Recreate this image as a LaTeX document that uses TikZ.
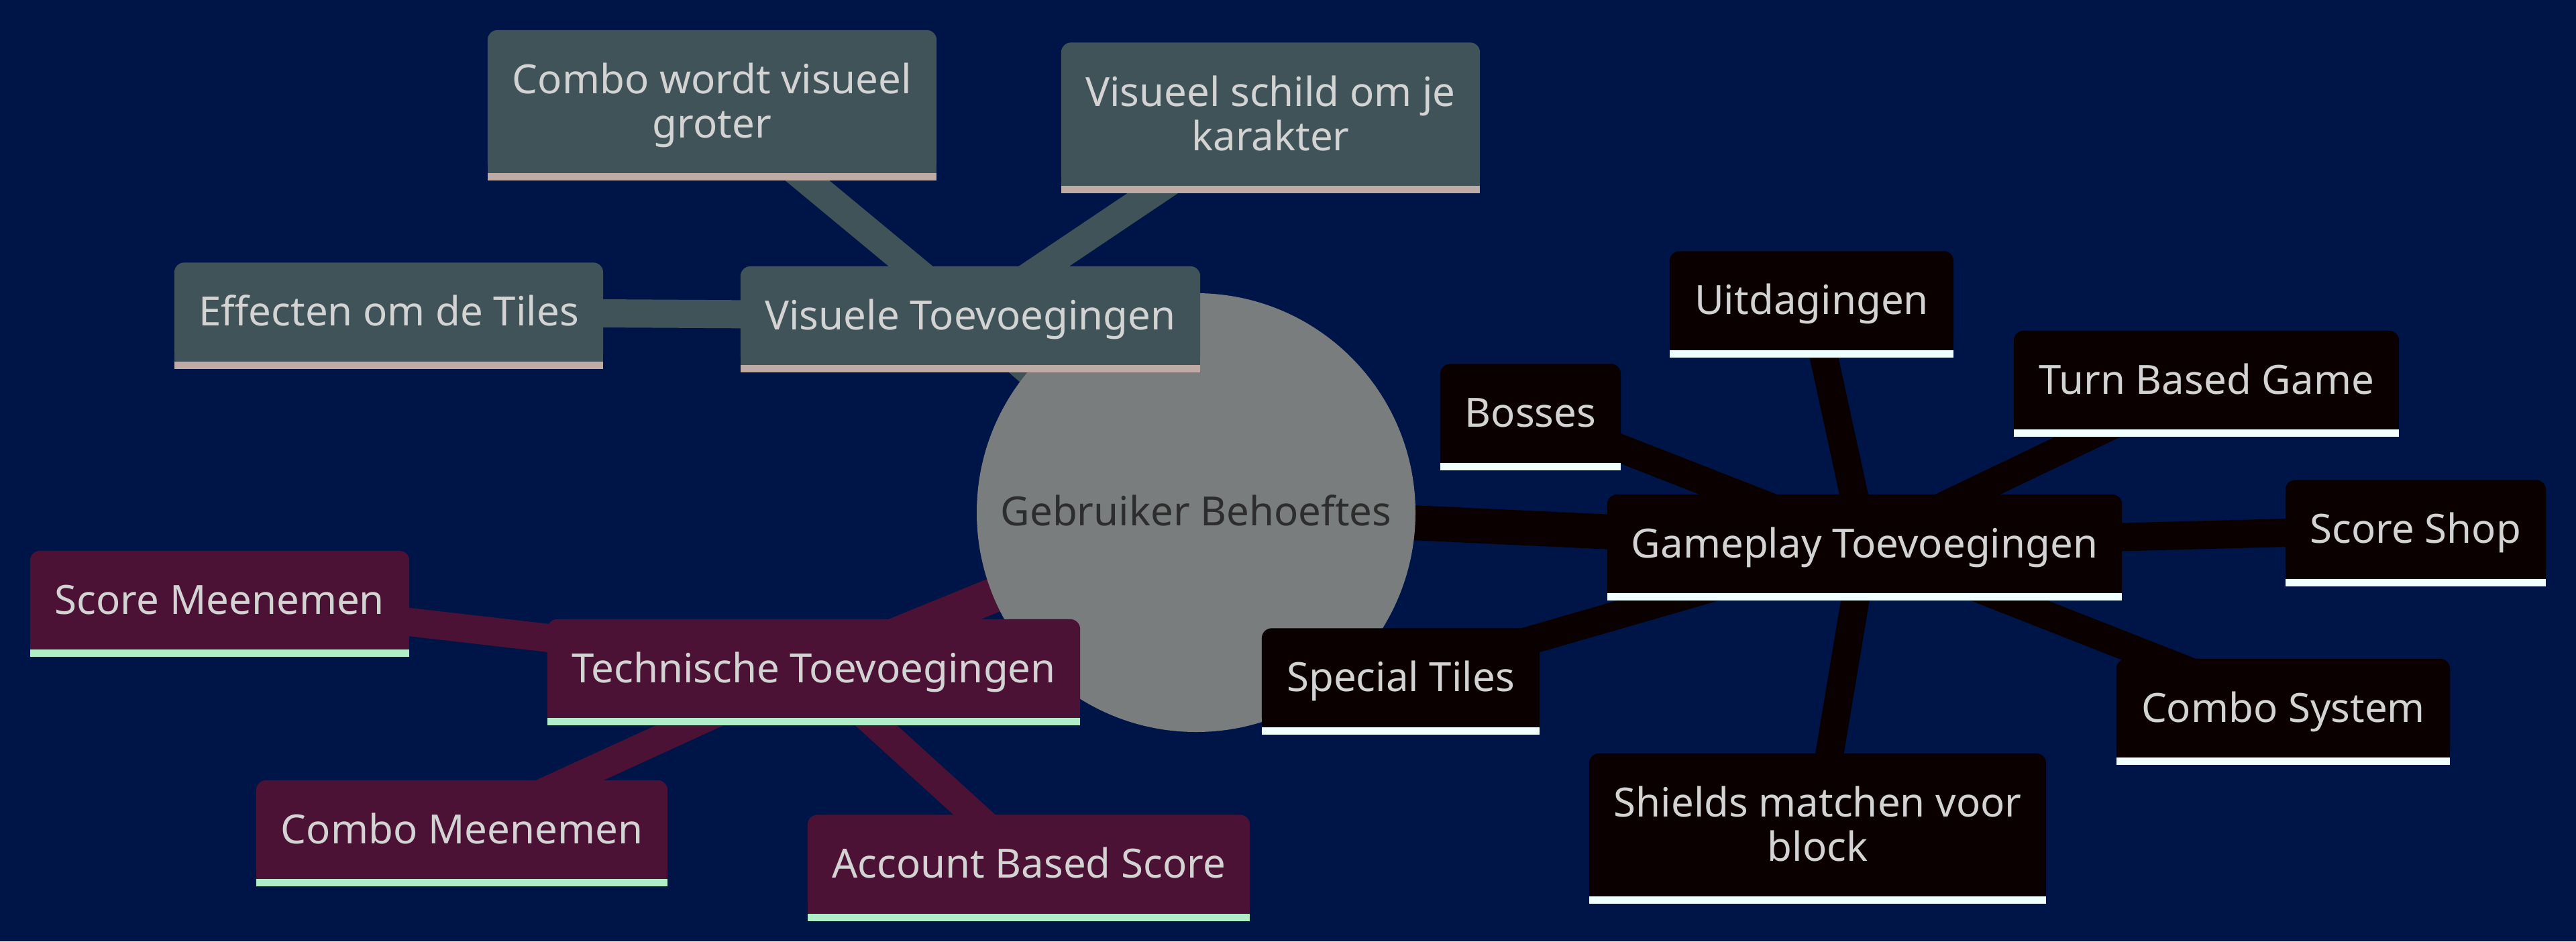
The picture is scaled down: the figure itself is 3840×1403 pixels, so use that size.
\documentclass[tikz,border=0pt]{standalone}
\usepackage{fontspec}
\setmainfont{Noto Sans}
\usetikzlibrary{positioning}
\pgfdeclarelayer{back}
\pgfdeclarelayer{edges}
\pgfdeclarelayer{boxes}
\pgfsetlayers{back,edges,boxes,main}
\definecolor{bgnavy}{RGB}{0,21,71}
\definecolor{rootgray}{RGB}{121,125,125}
\definecolor{roottxt}{RGB}{45,45,45}
\definecolor{txtgray}{RGB}{211,211,211}
\definecolor{visfill}{RGB}{64,83,89}
\definecolor{visbar}{RGB}{190,171,166}
\definecolor{techfill}{RGB}{76,18,54}
\definecolor{techbar}{RGB}{176,238,200}
\definecolor{gamefill}{RGB}{10,0,0}
\definecolor{gamebar}{RGB}{240,255,255}

\begin{document}
\begin{tikzpicture}[
  x=1pt, y=-1pt,
  font=\fontsize{60}{66}\selectfont,
  leaf/.style={inner sep=0pt, align=center, text=txtgray, minimum height=147pt,
    text height=45pt, text depth=4pt},
  twoline/.style={minimum height=213pt, text height=112pt, text depth=4pt},
  rootedge/.style={line width=52pt},
  subedge/.style={line width=42pt}
]
  \begin{pgfonlayer}{back}
    \fill[bgnavy] (0,0) rectangle (3840,1403);
  \end{pgfonlayer}
  \useasboundingbox (0,0) rectangle (3840,1403);

  \node[text=roottxt, text height=45pt, text depth=7pt] (root) at (1783,764)
    {Gebruiker Behoeftes};

  \node[leaf, minimum width=685pt] (vis) at (1446.5,470.5) {Visuele Toevoegingen};
  \node[leaf, twoline, minimum width=669pt] (combovis) at (1061.5,151.5)
    {Combo wordt visueel\\groter};
  \node[leaf, twoline, minimum width=624pt] (schild) at (1894,170)
    {Visueel schild om je\\karakter};
  \node[leaf, minimum width=639pt] (effect) at (579.5,465) {Effecten om de Tiles};

  \node[leaf, minimum width=794pt] (tech) at (1213,996.5) {Technische Toevoegingen};
  \node[leaf, minimum width=565pt] (scoremee) at (327.5,894.5) {Score Meenemen};
  \node[leaf, minimum width=613pt] (combomee) at (688.5,1236.5) {Combo Meenemen};
  \node[leaf, minimum width=659pt] (account) at (1533.5,1288) {Account Based Score};

  \node[leaf, minimum width=767pt] (game) at (2779.5,810.5) {Gameplay Toevoegingen};
  \node[leaf, minimum width=269pt] (bosses) at (2281.5,616) {Bosses};
  \node[leaf, minimum width=423pt] (uitdag) at (2700.5,448) {Uitdagingen};
  \node[leaf, minimum width=574pt] (turn) at (3289,566.5) {Turn Based Game};
  \node[leaf, minimum width=388pt] (shop) at (3601,789) {Score Shop};
  \node[leaf, minimum width=497pt] (combosys) at (3403.5,1055.5) {Combo System};
  \node[leaf, twoline, minimum width=681pt] (shields) at (2709.5,1229.5)
    {Shields matchen voor\\block};
  \node[leaf, minimum width=414pt] (special) at (2088,1010) {Special Tiles};

  \begin{pgfonlayer}{edges}
    \draw[rootedge, visfill] (root.center) -- (vis.center);
    \draw[rootedge, techfill] (root.center) -- (tech.center);
    \draw[rootedge, gamefill] (root.center) -- (game.center);
    \foreach \a in {combovis, schild, effect}
      \draw[subedge, visfill] (vis.center) -- (\a.center);
    \foreach \a in {scoremee, combomee, account}
      \draw[subedge, techfill] (tech.center) -- (\a.center);
    \foreach \a in {bosses, uitdag, turn, shop, combosys, shields, special}
      \draw[subedge, gamefill] (game.center) -- (\a.center);
  \end{pgfonlayer}

  \begin{pgfonlayer}{boxes}
    \fill[rootgray] (root.center) circle (327pt);
    \foreach \n/\c/\b in {vis/visfill/visbar, combovis/visfill/visbar,
        schild/visfill/visbar, effect/visfill/visbar,
        tech/techfill/techbar, scoremee/techfill/techbar,
        combomee/techfill/techbar, account/techfill/techbar,
        game/gamefill/gamebar, bosses/gamefill/gamebar, uitdag/gamefill/gamebar,
        turn/gamefill/gamebar, shop/gamefill/gamebar, combosys/gamefill/gamebar,
        shields/gamefill/gamebar, special/gamefill/gamebar} {
      \fill[\c, rounded corners=15pt] (\n.south west) rectangle (\n.north east);
      \fill[\c] (\n.south west) rectangle (\n.east);
      \fill[\b] (\n.south west) rectangle ([yshift=-11pt]\n.south east);
    }
  \end{pgfonlayer}
\end{tikzpicture}
\end{document}
